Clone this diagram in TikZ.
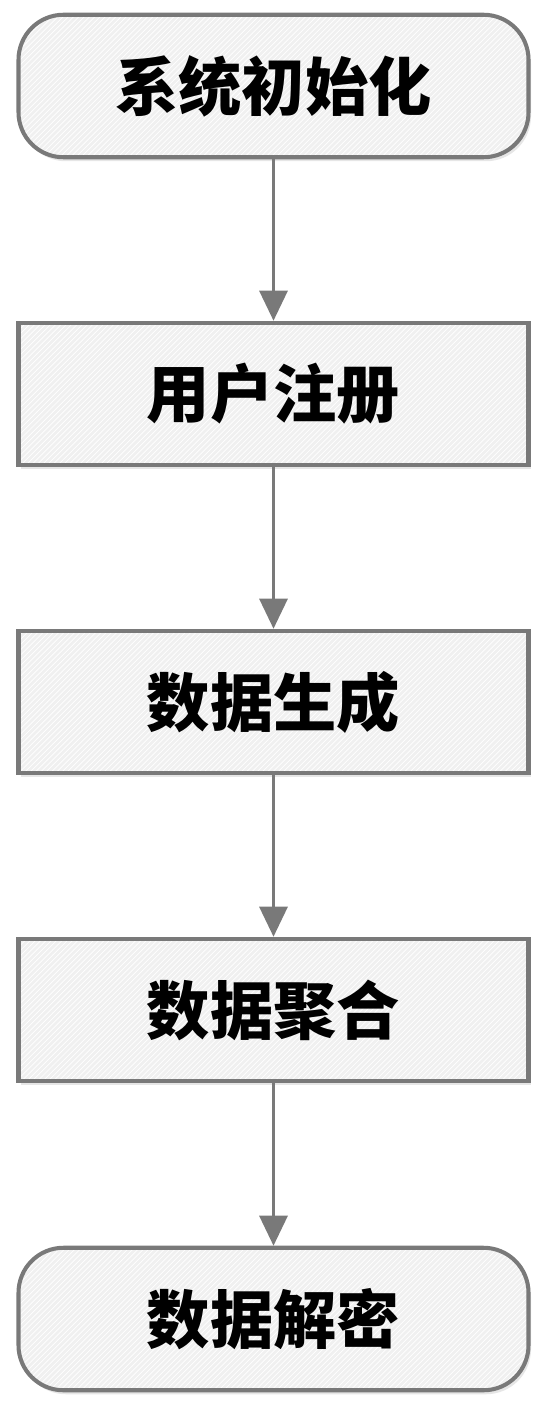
\documentclass[tikz,border=0pt]{standalone}
\usepackage{fontspec}
\newfontfamily\cjk{Noto Sans CJK SC}
\usepackage{tikz}
\usetikzlibrary{
    arrows.meta,
    shadows,
    patterns
}

\begin{document}
\begin{tikzpicture}[->,>={Triangle[width=5.6mm,length=6mm]},line width=1.7pt]
    \tikzstyle{stepbox}=[shape=rectangle, draw=gray!95!black, line width=2.3pt,
        drop shadow={opacity=0.2, shadow xshift=0.05cm, shadow yshift=-0.08cm},
        preaction={fill=gray!12}, pattern=north east lines, pattern color=white,
        minimum width=10.2cm, minimum height=2.85cm, font=\cjk\bfseries\fontsize{36}{40}\selectfont]
    \tikzstyle{endbox}=[stepbox, rounded corners=0.9cm]
    \useasboundingbox (0,0) rectangle (11,-28.38);
    \node[endbox] (init) at (5.47, -1.72) {系统初始化};
    \node[stepbox] (reg) at (5.47, -7.88) {用户注册};
    \node[stepbox] (gen) at (5.47, -14.04) {数据生成};
    \node[stepbox] (agg) at (5.47, -20.2) {数据聚合};
    \node[endbox] (dec) at (5.47, -26.38) {数据解密};
    \draw[gray!95!black] (init) -- (reg);
    \draw[gray!95!black] (reg) -- (gen);
    \draw[gray!95!black] (gen) -- (agg);
    \draw[gray!95!black] (agg) -- (dec);
\end{tikzpicture}
\end{document}
